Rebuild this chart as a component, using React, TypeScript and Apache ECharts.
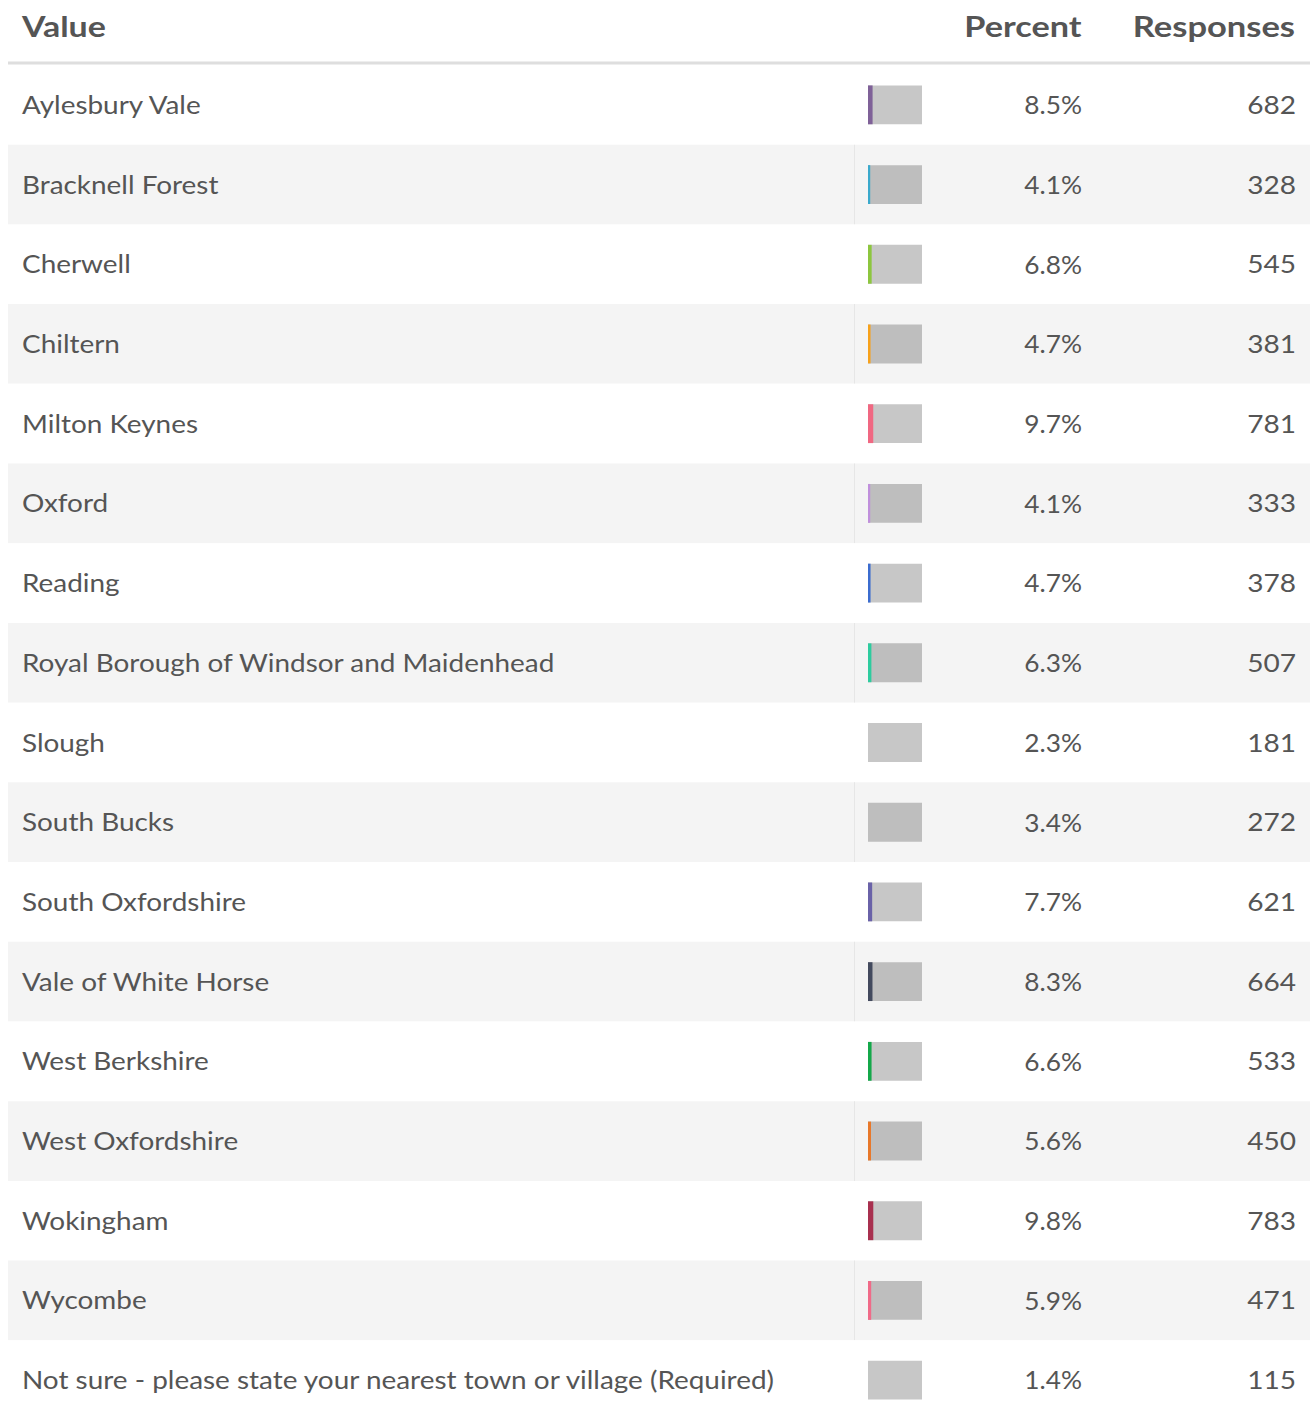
import React, { useEffect, useRef } from "react";
import * as echarts from "echarts";

const categories = [
  "Aylesbury Vale",
  "Bracknell Forest",
  "Cherwell",
  "Chiltern",
  "Milton Keynes",
  "Oxford",
  "Reading",
  "Royal Borough of Windsor and Maidenhead",
  "Slough",
  "South Bucks",
  "South Oxfordshire",
  "Vale of White Horse",
  "West Berkshire",
  "West Oxfordshire",
  "Wokingham",
  "Wycombe",
  "Not sure - please state your nearest town or village (Required)",
];

const percents = [8.5, 4.1, 6.8, 4.7, 9.7, 4.1, 4.7, 6.3, 2.3, 3.4, 7.7, 8.3, 6.6, 5.6, 9.8, 5.9, 1.4];

const responses = [682, 328, 545, 381, 781, 333, 378, 507, 181, 272, 621, 664, 533, 450, 783, 471, 115];

const stripColors = [
  "#7f6198",
  "#3aa9cc",
  "#8dc63f",
  "#f7a11a",
  "#f06882",
  "#c08fdc",
  "#3b6ccf",
  "#2ecc9f",
  "rgba(0,0,0,0)",
  "rgba(0,0,0,0)",
  "#6a62a8",
  "#434a5e",
  "#14a84a",
  "#e8782a",
  "#a8304f",
  "#f06a88",
  "rgba(0,0,0,0)",
];

const headers = ["Value", "Percent", "Responses"];

const FONT = "Lato, 'Noto Sans', sans-serif";
const TEXT = "#555555";

export default function App() {
  const ref = useRef<HTMLDivElement>(null);

  useEffect(() => {
    if (!ref.current) return;
    const chart = echarts.init(ref.current, null, { renderer: "svg" });
    const data = categories.map((c, i) => [percents[i], i, responses[i]]);

    const headerStyle = (text: string, align: string) => ({
      text,
      fontFamily: FONT,
      fontWeight: "bold",
      fontSize: 29,
      fill: TEXT,
      textAlign: align,
      textVerticalAlign: "middle",
    });

    chart.setOption({
      animation: false,
      backgroundColor: "#ffffff",
      grid: { left: 868, width: 54, top: 65, height: 1360 },
      xAxis: { type: "value", min: 0, max: 100, show: false },
      yAxis: { type: "category", data: categories, inverse: true, show: false },
      graphic: [
        { type: "text", x: 22, y: 26, scaleX: 1.17, style: headerStyle(headers[0], "left") },
        { type: "text", x: 1081.5, y: 26, scaleX: 1.18, style: headerStyle(headers[1], "right") },
        { type: "text", x: 1295, y: 26, scaleX: 1.19, style: headerStyle(headers[2], "right") },
        {
          type: "rect",
          shape: { x: 8, y: 61.5, width: 1302, height: 3 },
          style: { fill: "#dedede" },
        },
      ],
      series: [
        {
          type: "custom",
          clip: false,
          data,
          renderItem: (params: any, api: any) => {
            const i = params.dataIndex;
            const pct = api.value(0);
            const start = api.coord([0, i]);
            const end = api.coord([100, i]);
            const fill = api.coord([pct, i]);
            const bandH = api.size([0, 1])[1];
            const barH = bandH * 0.4875;
            const cy = start[1];
            const top = cy - bandH / 2;
            const ty = cy - 0.5;
            const shaded = i % 2 === 1;
            const txt = (text: string, align: string) => ({
              text,
              fontFamily: FONT,
              fontSize: 25.5,
              fill: TEXT,
              textAlign: align,
              textVerticalAlign: "middle",
            });
            const children: any[] = [
              {
                type: "rect",
                shape: { x: 8, y: top, width: 1302, height: bandH },
                style: { fill: shaded ? "#f4f4f4" : "#ffffff" },
              },
            ];
            if (shaded) {
              children.push({
                type: "rect",
                shape: { x: 854, y: top, width: 1, height: bandH },
                style: { fill: "#e6e6e6" },
              });
            }
            children.push(
              {
                type: "rect",
                shape: { x: start[0], y: cy - barH / 2, width: end[0] - start[0], height: barH },
                style: { fill: "rgba(0,0,0,0.22)" },
              },
              {
                type: "rect",
                shape: { x: start[0], y: cy - barH / 2, width: fill[0] - start[0], height: barH },
                style: { fill: stripColors[i] },
              },
              { type: "text", x: 22, y: ty, scaleX: 1.095, style: txt(categories[i], "left") },
              { type: "text", x: 1082, y: ty, scaleX: 1.03, style: txt(pct.toFixed(1) + "%", "right") },
              { type: "text", x: 1296, y: ty, scaleX: 1.1, style: txt(String(api.value(2)), "right") }
            );
            return { type: "group", children };
          },
        },
      ],
    });
    return () => chart.dispose();
  }, []);

  return (
    <div
      ref={ref}
      style={{ position: "absolute", left: 0, top: 0, width: 1310, height: 1420 }}
    />
  );
}
